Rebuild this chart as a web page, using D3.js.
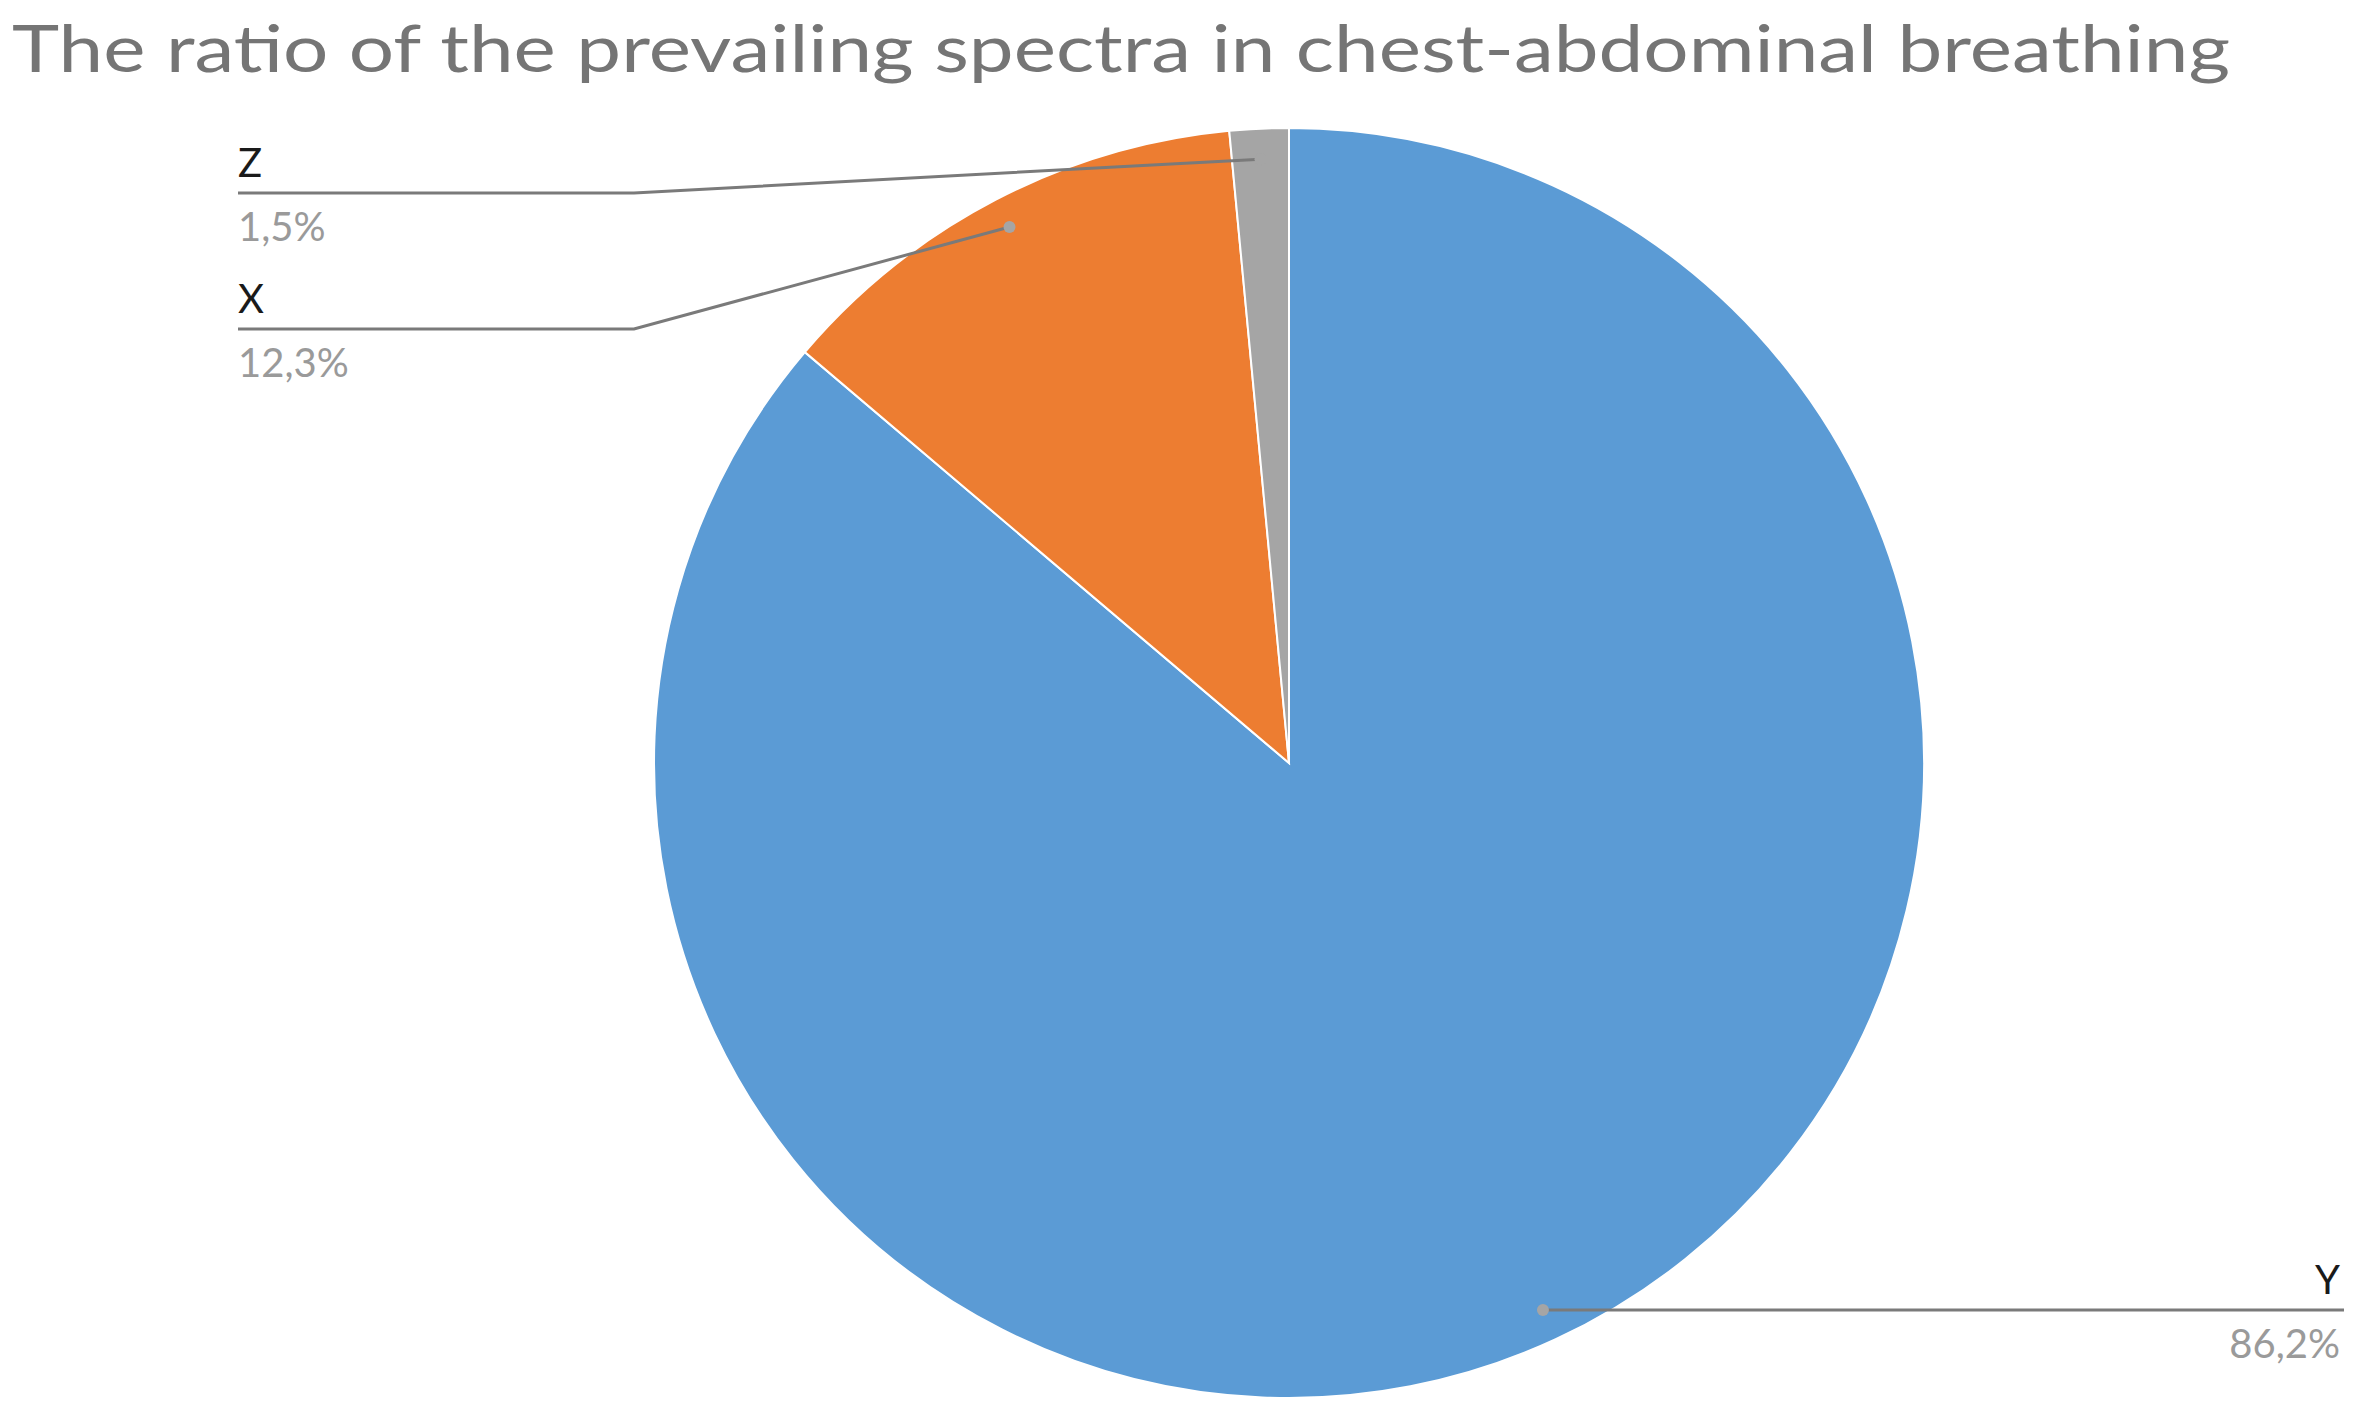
<!DOCTYPE html>
<html>
<head>
<meta charset="utf-8">
<script src="https://cdn.jsdelivr.net/npm/d3@7"></script>
<style>
  body { margin: 0; background: #fff; }
  text { font-family: Lato, "Open Sans", sans-serif; }
</style>
</head>
<body>
<svg id="chart" width="2358" height="1412"></svg>
<script>
// data
var categories = ["Y", "X", "Z"];
var values = [86.2, 12.3, 1.5];
var percentLabels = ["86,2%", "12,3%", "1,5%"];
var colors = ["#5b9bd5", "#ed7d31", "#a5a5a5"];

var svg = d3.select('#chart');
var cx = 1289, cy = 763, R = 635;

svg.append('text')
	.attr('x', 12).attr('y', 72)
	.attr('font-size', 66)
	.attr('fill', '#757575')
	.attr('textLength', 2218)
	.attr('lengthAdjust', 'spacingAndGlyphs')
	.text('The ratio of the prevailing spectra in chest-abdominal breathing');

var data = categories.map(function(c, i) {
	return { name: c, value: values[i], pct: percentLabels[i], color: colors[i] };
});

var pie = d3.pie().sort(null).value(function(d) { return d.value; });
var arc = d3.arc().innerRadius(0).outerRadius(R);
var arcs = pie(data);

var g = svg.append('g').attr('transform', 'translate(' + cx + ',' + cy + ')');

g.selectAll('path.slice')
	.data(arcs)
	.enter().append('path')
	.attr('class', 'slice')
	.attr('d', arc)
	.style('fill', function(d) { return d.data.color; })
	.style('stroke', '#fff')
	.style('stroke-width', 2);

// leader lines: dot at 0.95R on the mid-angle, then to the label
var labelPos = {
	Y: { lineY: 1310, x1: 1544, x2: 2344, anchor: 'end', tx: 2340 },
	X: { lineY: 329, x1: 238, x2: 634, anchor: 'start', tx: 238 },
	Z: { lineY: 193, x1: 238, x2: 634, anchor: 'start', tx: 238 }
};

arcs.forEach(function(d) {
	var a = (d.startAngle + d.endAngle) / 2;
	var px = cx + Math.sin(a) * R * 0.952;
	var py = cy - Math.cos(a) * R * 0.952;
	var p = labelPos[d.data.name];
	var pts;
	if (p.anchor === 'end') {
		pts = [[px, py], [p.x2, p.lineY]];
		pts[0][1] = p.lineY;
	} else {
		pts = [[px, py], [p.x2, p.lineY], [p.x1, p.lineY]];
	}
	svg.append('path')
		.attr('d', d3.line()(pts))
		.attr('fill', 'none')
		.attr('stroke', '#7a7a7a')
		.attr('stroke-width', 3);
	svg.append('circle')
		.attr('cx', px).attr('cy', p.anchor === 'end' ? p.lineY : py)
		.attr('r', 6).attr('fill', '#a5a5a5');
	svg.append('text')
		.attr('x', p.tx).attr('y', p.lineY - 16)
		.attr('text-anchor', p.anchor)
		.attr('font-size', 40).attr('fill', '#1a1a1a')
		.text(d.data.name);
	svg.append('text')
		.attr('x', p.tx).attr('y', p.lineY + 48)
		.attr('text-anchor', p.anchor)
		.attr('font-size', 40).attr('fill', '#9a9a9a')
		.text(d.data.pct);
});
</script>
</body>
</html>
